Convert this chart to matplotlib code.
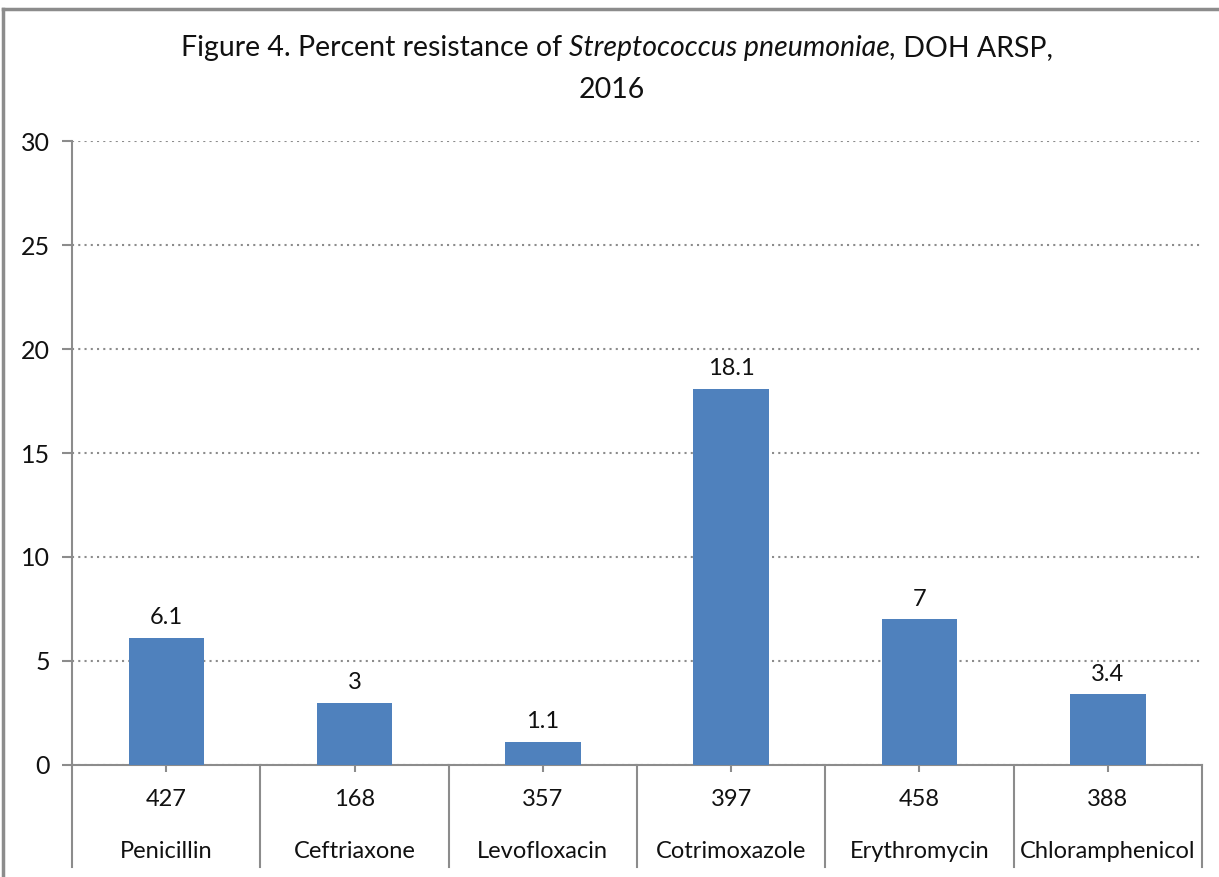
import numpy as np
import matplotlib.pyplot as plt
from matplotlib.lines import Line2D
import matplotlib.transforms as mtransforms

plt.rcParams['font.family'] = ['Lato', 'DejaVu Sans']

# data
drugs = ['Penicillin', 'Ceftriaxone', 'Levofloxacin', 'Cotrimoxazole',
         'Erythromycin', 'Chloramphenicol']
n_tested = [427, 168, 357, 397, 458, 388]
pct_resistant = [6.1, 3, 1.1, 18.1, 7, 3.4]
y_ticks = [0, 5, 10, 15, 20, 25, 30]

bar_color = '#4F81BD'
axis_gray = '#8C8C8C'
text_color = '#111111'
fs = 17

fig = plt.figure(figsize=(12.19, 8.77), dpi=100)
ax = fig.add_axes([72 / 1219, 1 - 765 / 877, (1202 - 72) / 1219, (765 - 141) / 877])

x = np.arange(len(drugs))
ax.bar(x, pct_resistant, width=0.4, color=bar_color, zorder=3)

for xi, v in zip(x, pct_resistant):
    ax.annotate(f'{v:g}', (xi, v), xytext=(0, 7), textcoords='offset points',
                ha='center', va='bottom', fontsize=fs, color=text_color)

ax.set_xlim(-0.5, len(drugs) - 0.5)
ax.set_ylim(0, 30)
ax.set_yticks(y_ticks)
ax.tick_params(axis='y', length=7, width=1.5, color=axis_gray, labelsize=fs + 1,
               labelcolor=text_color, pad=9)
ax.yaxis.grid(True, linestyle=(0, (1, 2)), color='#8C8C8C', linewidth=1.5, zorder=0)

ax.set_xticks(x)
ax.set_xticklabels([])
ax.tick_params(axis='x', length=5, width=1.5, color=axis_gray)

for s in ['top', 'right']:
    ax.spines[s].set_visible(False)
for s in ['left', 'bottom']:
    ax.spines[s].set_color(axis_gray)
    ax.spines[s].set_linewidth(1.5)

# two-level category axis with separators
trans = mtransforms.blended_transform_factory(ax.transData, ax.transAxes)
sep_bottom = -(867 - 765) / 624
for b in np.arange(-0.5, len(drugs), 1.0):
    ax.plot([b, b], [0, sep_bottom], transform=trans, color=axis_gray,
            linewidth=1.5, clip_on=False)
for xi, n, name in zip(x, n_tested, drugs):
    ax.text(xi, -(800 - 765) / 624, str(n), transform=trans, ha='center',
            va='center', fontsize=fs, color=text_color)
    ax.text(xi, -(851 - 765) / 624, name, transform=trans, ha='center',
            va='center', fontsize=fs, color=text_color)

# title with italic species name
fig.canvas.draw()
renderer = fig.canvas.get_renderer()
parts = [('Figure 4. Percent resistance of ', 'normal'),
         ('Streptococcus pneumoniae,', 'italic'),
         (' DOH ARSP,', 'normal')]
texts = [fig.text(0, 0, s, fontsize=20.5, style=st, color=text_color, va='center')
         for s, st in parts]
widths = [t.get_window_extent(renderer).width for t in texts]
total = sum(widths)
cx = 617
xpos = cx - total / 2
for t, w in zip(texts, widths):
    t.set_position((xpos / 1219, 1 - 48 / 877))
    xpos += w
fig.text(612 / 1219, 1 - 90 / 877, '2016', fontsize=20.5, color=text_color,
         ha='center', va='center')

# chart area border
fig.add_artist(Line2D([3 / 1219, 3 / 1219], [0, 1 - 9 / 877], color='#8C8C8C', linewidth=2.5))
fig.add_artist(Line2D([3 / 1219, 1], [1 - 9 / 877, 1 - 9 / 877], color='#8C8C8C', linewidth=2.5))

fig.savefig('out.png', dpi=100)
